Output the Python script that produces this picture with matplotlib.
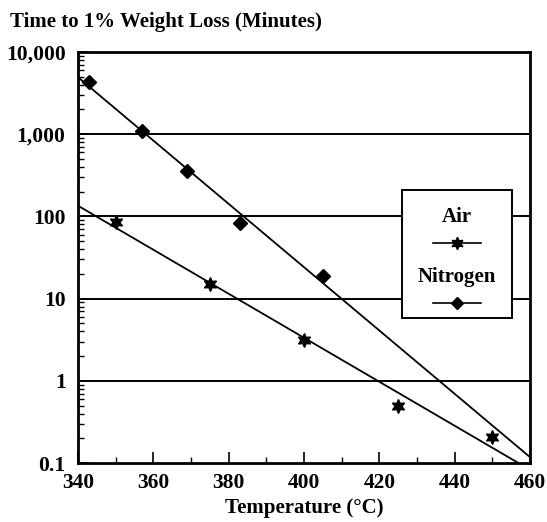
import numpy as np
import matplotlib
matplotlib.use("Agg")
import matplotlib.pyplot as plt
from matplotlib.patches import Rectangle
from matplotlib.ticker import FixedLocator, LogLocator, NullFormatter

plt.rcParams['font.family'] = ['Liberation Serif', 'DejaVu Serif']
plt.rcParams['font.weight'] = 'bold'

# data
air_temp = [350, 375, 400, 425, 450]
air_time = [85, 15, 3.1, 0.5, 0.21]
n2_temp = [343, 357, 369, 383, 405]
n2_time = [4300, 1100, 355, 82, 19]

xticks = [340, 360, 380, 400, 420, 440, 460]
yticks = [0.1, 1, 10, 100, 1000, 10000]
ylabels = ['0.1', '1', '10', '100', '1,000', '10,000']

fig = plt.figure(figsize=(5.47, 5.22), dpi=100)
ax = fig.add_axes([0.1426, 0.113, 0.8264, 0.7874])
ax.set_yscale('log')
ax.set_xlim(340, 460)
ax.set_ylim(0.1, 10000)

# straight fits on log scale
xfit = np.linspace(340, 460, 200)
for t, y in [(air_temp, air_time), (n2_temp, n2_time)]:
    p = np.polyfit(t, np.log10(y), 1)
    ax.plot(xfit, 10 ** np.polyval(p, xfit), color='black', lw=1.3, zorder=3)

ax.plot(air_temp, air_time, ls='none', marker=(6, 1, 0), ms=10, color='black', zorder=4)
ax.plot(n2_temp, n2_time, ls='none', marker='D', ms=7, color='black', zorder=4)

for yv in yticks[1:-1]:
    ax.axhline(yv, color='black', lw=1.4, zorder=1)

ax.xaxis.set_major_locator(FixedLocator(xticks))
ax.xaxis.set_minor_locator(FixedLocator(np.arange(350, 460, 20)))
ax.yaxis.set_major_locator(FixedLocator(yticks))
ax.yaxis.set_minor_locator(LogLocator(base=10, subs=np.arange(2, 10)))
ax.yaxis.set_minor_formatter(NullFormatter())
ax.set_yticklabels(ylabels)
ax.set_xticklabels([str(v) for v in xticks])

ax.tick_params(axis='both', which='major', direction='in', length=8, width=1.2,
               labelsize=15.5)
ax.tick_params(axis='both', which='minor', direction='in', length=4, width=1)
ax.tick_params(axis='x', pad=7)
ax.tick_params(axis='y', pad=9)
ax.tick_params(axis='y', which='both', right=False)
for lbl in ax.get_xticklabels() + ax.get_yticklabels():
    lbl.set_fontweight('bold')
for s in ax.spines.values():
    s.set_linewidth(2)
    s.set_zorder(5)

ax.set_xlabel('Temperature (°C)', fontsize=15, fontweight='bold', labelpad=4)
fig.text(0.018, 0.958, 'Time to 1% Weight Loss (Minutes)', fontsize=15,
         fontweight='bold', ha='left', va='center')

# hand-drawn legend box
bx0, by0, bw, bh = 0.717, 0.353, 0.243, 0.311
ax.add_patch(Rectangle((bx0, by0), bw, bh, transform=ax.transAxes,
                       facecolor='white', edgecolor='black', lw=1.4, zorder=6))
cx = bx0 + bw / 2
ax.text(cx, 0.599, 'Air', transform=ax.transAxes, ha='center', va='center',
        fontsize=15, fontweight='bold', zorder=7)
ax.plot([cx - 0.053, cx + 0.053], [0.535, 0.535], transform=ax.transAxes,
        color='black', lw=1.2, zorder=7)
ax.plot([cx], [0.535], transform=ax.transAxes, marker=(6, 1, 0), ms=9,
        color='black', zorder=8)
ax.text(cx, 0.453, 'Nitrogen', transform=ax.transAxes, ha='center', va='center',
        fontsize=15, fontweight='bold', zorder=7)
ax.plot([cx - 0.053, cx + 0.053], [0.389, 0.389], transform=ax.transAxes,
        color='black', lw=1.2, zorder=7)
ax.plot([cx], [0.389], transform=ax.transAxes, marker='D', ms=6,
        color='black', zorder=8)

fig.savefig('out.png', dpi=100)
